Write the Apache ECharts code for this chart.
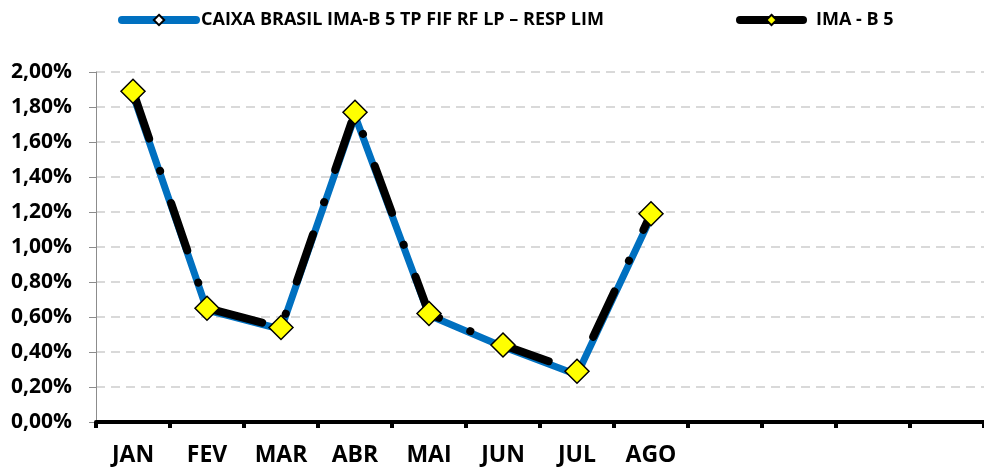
<!DOCTYPE html>
<html><head><meta charset="utf-8">
<script src="https://cdn.jsdelivr.net/npm/echarts@6/dist/echarts.min.js"></script>
<style>html,body{margin:0;padding:0;background:#fff}#c{width:984px;height:467px}</style>
</head><body><div id="c"></div>
<script>
const categories = ['JAN','FEV','MAR','ABR','MAI','JUN','JUL','AGO','','','',''];
const fundName = 'CAIXA BRASIL IMA-B 5 TP FIF RF LP – RESP LIM';
const indexName = 'IMA - B 5';
const fundValues = [1.87, 0.64, 0.53, 1.75, 0.61, 0.43, 0.27, 1.17];
const indexValues = [1.89, 0.65, 0.54, 1.77, 0.62, 0.44, 0.29, 1.19];
const yTicks = [0, 0.2, 0.4, 0.6, 0.8, 1.0, 1.2, 1.4, 1.6, 1.8, 2.0];

const font = 'Open Sans';
const chart = echarts.init(document.getElementById('c'));
chart.setOption({
  animation: false,
  backgroundColor: '#fff',
  legend: [{
    left: 118, top: 11, padding: 0, itemWidth: 74, itemHeight: 13,
    textStyle: {fontFamily: font, fontWeight: 'bold', fontSize: 18, color: '#000'},
    data: [{name: fundName, lineStyle: {width: 8, cap: 'round', color: '#0070c0'}}]
  }, {
    left: 736, top: 11, padding: 0, itemWidth: 63, itemHeight: 13,
    textStyle: {fontFamily: font, fontWeight: 'bold', fontSize: 18, color: '#000', padding: [0, 0, 0, 8]},
    data: [{name: indexName, lineStyle: {type: 'solid', width: 8, cap: 'round', color: '#000'}}]
  }],
  grid: {left: 96, right: 0, top: 72, bottom: 44, containLabel: false},
  xAxis: {
    type: 'category', data: categories, boundaryGap: true,
    axisLine: {lineStyle: {color: '#000', width: 4}},
    axisTick: {show: true, length: 6, lineStyle: {color: '#000', width: 4}},
    axisLabel: {margin: 22, fontFamily: font, fontWeight: 'bold', fontSize: 23, color: '#000', interval: 0},
    splitLine: {show: false}
  },
  yAxis: {
    type: 'value', min: yTicks[0], max: yTicks[yTicks.length - 1], interval: 0.2,
    axisLine: {show: true, lineStyle: {color: '#8c8c8c', width: 1}},
    axisTick: {show: true, length: 7, lineStyle: {color: '#8c8c8c'}},
    axisLabel: {margin: 24, fontFamily: font, fontWeight: 'bold', fontSize: 21, color: '#000',
      formatter: v => v.toFixed(2).replace('.', ',') + '%'},
    splitLine: {show: true, lineStyle: {color: '#d9d9d9', width: 2, type: [9, 6]}}
  },
  series: [{
    name: fundName, type: 'line', data: fundValues, z: 2,
    symbol: 'diamond', symbolSize: 9,
    itemStyle: {color: '#fff', borderColor: '#000', borderWidth: 1.5},
    lineStyle: {color: '#0070c0', width: 7, cap: 'round', join: 'round'}
  }, {
    name: indexName, type: 'line', data: indexValues, z: 3,
    symbol: 'diamond', symbolSize: 24,
    itemStyle: {color: '#ffff00', borderColor: '#000', borderWidth: 1.5},
    lineStyle: {color: '#000', width: 8, type: [50, 34, 0.1, 34], cap: 'round', join: 'round'}
  }]
});
</script></body></html>
